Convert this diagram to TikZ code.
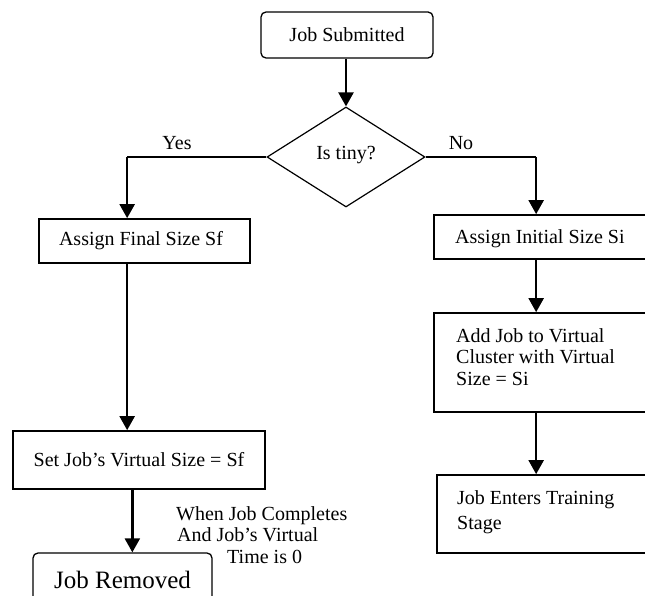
\documentclass[tikz,border=0pt]{standalone}
\usepackage{fontspec}
\setmainfont{Liberation Serif}
\usetikzlibrary{shapes.geometric,arrows.meta}
\begin{document}
\begin{tikzpicture}[x=1pt,y=-1pt,
  txt/.style={font=\fontsize{20}{21.5}\selectfont},
  rbox/.style={draw,line width=1.3pt,rounded corners=5pt,inner sep=0pt,txt},
  pbox/.style={draw,line width=1.7pt,inner sep=0pt,txt},
  lbox/.style={draw,line width=1.7pt,inner sep=0pt},
  ltxt/.style={txt,align=left,anchor=north west,inner sep=0pt},
  arr/.style={line width=2.3pt,-{Triangle[width=15pt,length=14pt]}},
  conn/.style={line width=1.6pt},
]
\useasboundingbox (0,0) rectangle (645,596);
\clip (0,0) rectangle (645,596);

% start and decision
\node[rbox,minimum width=172pt,minimum height=46pt] (sub) at (347,35) {Job Submitted};
\node[draw,diamond,line width=1.2pt,aspect=1.58,minimum width=158pt,minimum height=100pt,inner sep=0pt,txt] (tiny) at (346,157) {\raisebox{9pt}{Is tiny?}};
\draw[arr] (sub.south -| tiny.north) -- (tiny.north);

% left branch
\node[pbox,minimum width=211pt,minimum height=44pt] (afs) at (144.5,241) {\hspace*{-7pt}Assign Final Size Sf};
\node[pbox,minimum width=252pt,minimum height=58pt] (setv) at (139,460) {Set Job’s Virtual Size = Sf};
\node[rbox,minimum width=179pt,minimum height=54pt,font=\fontsize{25}{27}\selectfont] (rem) at (122.5,580) {Job Removed};
\coordinate (yesin) at ([xshift=89pt]afs.north west);
\draw[conn] (tiny.west) -- (tiny.west -| yesin);
\draw[arr] (tiny.west -| yesin) -- (yesin);
\node[txt] (yes) at (177,143) {Yes};
\draw[arr] (afs.south -| yesin) -- (setv.north -| yesin);
\coordinate (remin) at ([xshift=100pt]rem.north west);
\draw[arr] (setv.south -| remin) -- (remin);
\node[ltxt] (done) at (176,506)
  {When Job Completes\\
   \hspace*{1pt}And Job’s Virtual\\
   \hspace*{51pt}Time is 0};

% right branch
\node[lbox,minimum width=270pt,minimum height=44pt] (ais) at (569,237) {};
\node[ltxt] (aist) at (455,229) {Assign Initial Size Si};
\node[lbox,minimum width=270pt,minimum height=99pt] (add) at (569,362.5) {};
\node[ltxt] (addt) at (456,328) {Add Job to Virtual\\Cluster with Virtual\\Size = Si};
\node[lbox,minimum width=270pt,minimum height=78pt] (train) at (572,514) {};
\node[ltxt,font=\fontsize{20}{25}\selectfont] (traint) at (457,490) {Job Enters Training\\Stage};
\coordinate (noin) at ([xshift=103pt]ais.north west);
\draw[conn] (tiny.east) -- (tiny.east -| noin);
\draw[arr] (tiny.east -| noin) -- (noin);
\node[txt] (no) at (461,143) {No};
\draw[arr] (ais.south -| noin) -- (add.north -| noin);
\draw[arr] (add.south -| noin) -- (train.north -| noin);
\end{tikzpicture}
\end{document}
